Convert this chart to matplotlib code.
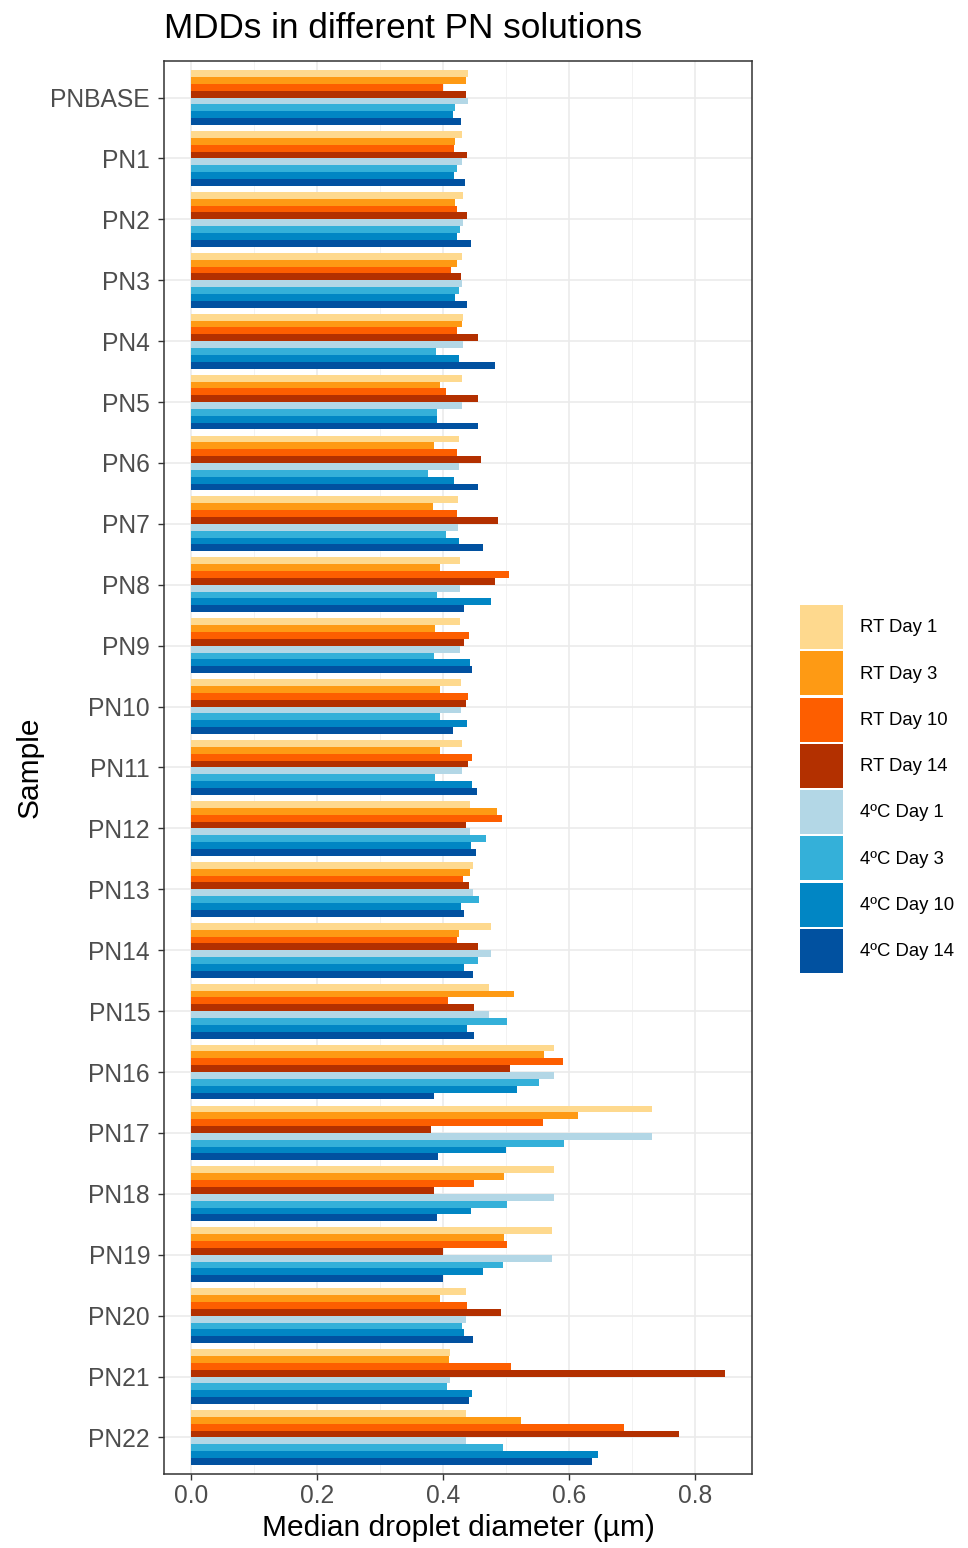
import numpy as np
import matplotlib
matplotlib.use("Agg")
import matplotlib.pyplot as plt
from matplotlib.patches import Patch

plt.rcParams["font.family"] = ["Liberation Sans", "DejaVu Sans"]

samples = ["PNBASE"] + [f"PN{i}" for i in range(1, 23)]
series = ["RT Day 1", "RT Day 3", "RT Day 10", "RT Day 14",
          "4\u00baC Day 1", "4\u00baC Day 3", "4\u00baC Day 10", "4\u00baC Day 14"]
colors = ["#FED98E", "#FE9A14", "#FD5E00", "#B33000",
          "#B3D7E6", "#34B0D9", "#0186C4", "#0151A0"]

# median droplet diameter (um), one list per condition, samples in order PNBASE..PN22
rt_day1 = [0.440, 0.430, 0.432, 0.430, 0.432, 0.430, 0.426, 0.424, 0.427, 0.427, 0.429, 0.430,
           0.443, 0.447, 0.477, 0.473, 0.576, 0.731, 0.576, 0.573, 0.437, 0.412, 0.437]
rt_day3 = [0.436, 0.419, 0.420, 0.422, 0.430, 0.395, 0.386, 0.384, 0.396, 0.387, 0.396, 0.395,
           0.486, 0.443, 0.425, 0.513, 0.560, 0.614, 0.497, 0.497, 0.395, 0.410, 0.524]
rt_day10 = [0.400, 0.417, 0.422, 0.413, 0.422, 0.405, 0.422, 0.423, 0.505, 0.442, 0.440, 0.446,
            0.494, 0.432, 0.422, 0.408, 0.591, 0.559, 0.449, 0.501, 0.438, 0.508, 0.688]
rt_day14 = [0.436, 0.439, 0.438, 0.429, 0.455, 0.456, 0.460, 0.487, 0.483, 0.434, 0.436, 0.440,
            0.436, 0.442, 0.456, 0.450, 0.506, 0.381, 0.386, 0.400, 0.492, 0.848, 0.774]
c4_day1 = [0.440, 0.430, 0.432, 0.430, 0.432, 0.430, 0.426, 0.424, 0.427, 0.427, 0.429, 0.430,
           0.443, 0.447, 0.477, 0.473, 0.576, 0.731, 0.576, 0.573, 0.437, 0.412, 0.437]
c4_day3 = [0.419, 0.422, 0.427, 0.426, 0.389, 0.391, 0.377, 0.405, 0.391, 0.386, 0.396, 0.387,
           0.469, 0.457, 0.456, 0.502, 0.552, 0.592, 0.502, 0.495, 0.430, 0.406, 0.496]
c4_day10 = [0.416, 0.417, 0.422, 0.419, 0.425, 0.390, 0.418, 0.426, 0.477, 0.443, 0.439, 0.446,
            0.445, 0.429, 0.434, 0.438, 0.518, 0.500, 0.445, 0.464, 0.433, 0.446, 0.646]
c4_day14 = [0.428, 0.435, 0.444, 0.439, 0.482, 0.455, 0.455, 0.463, 0.434, 0.446, 0.416, 0.454,
            0.453, 0.434, 0.447, 0.449, 0.386, 0.393, 0.391, 0.400, 0.448, 0.441, 0.636]

values = [rt_day1, rt_day3, rt_day10, rt_day14, c4_day1, c4_day3, c4_day10, c4_day14]

fig = plt.figure(figsize=(9.68, 15.48), dpi=100)
ax = fig.add_axes([0.1694, 0.0478, 0.6075, 0.9128])

y = np.arange(len(samples))
n = len(series)
w = 0.9 / n
for j, (vals, col) in enumerate(zip(values, colors)):
    ax.barh(y + (j - (n - 1) / 2) * w, vals, height=w, color=col,
            edgecolor="none", zorder=3)

vmax = max(max(v) for v in values)
ax.set_xlim(-0.05 * vmax, 1.05 * vmax)
ax.set_ylim(len(samples) - 0.4, -0.6)
ax.set_yticks(y)
ax.set_yticklabels(samples)
ax.set_xticks([0.0, 0.2, 0.4, 0.6, 0.8])
ax.set_xticklabels(["0.0", "0.2", "0.4", "0.6", "0.8"])
ax.set_xticks([0.1, 0.3, 0.5, 0.7], minor=True)

ax.grid(True, which="major", color="#EBEBEB", linewidth=1.2, zorder=0)
ax.grid(True, which="minor", axis="x", color="#F2F2F2", linewidth=0.7, zorder=0)
ax.tick_params(axis="both", which="major", labelsize=17.7, labelcolor="#4D4D4D",
               color="#333333", length=4, width=1)
ax.tick_params(axis="y", which="major", pad=6)
ax.tick_params(axis="x", which="minor", length=0)
for s in ax.spines.values():
    s.set_color("#333333")
    s.set_linewidth(1.1)

ax.set_xlabel("Median droplet diameter (\u00b5m)", fontsize=21.5, labelpad=4)
ax.set_ylabel("Sample", fontsize=21.5, labelpad=5)
fig.text(0.1694, 1 - 38 / 1548, "MDDs in different PN solutions", fontsize=25.3,
         ha="left", va="baseline")

handles = [Patch(facecolor=c, edgecolor="none") for c in colors]
fig.legend(handles, series, loc="center left", bbox_to_anchor=(0.826, 0.4903),
           frameon=False, fontsize=13.3, handlelength=2.35, handleheight=3.29,
           labelspacing=0.12, handletextpad=0.9, borderpad=0, borderaxespad=0)

fig.savefig("out.png", dpi=100)
plt.close(fig)
